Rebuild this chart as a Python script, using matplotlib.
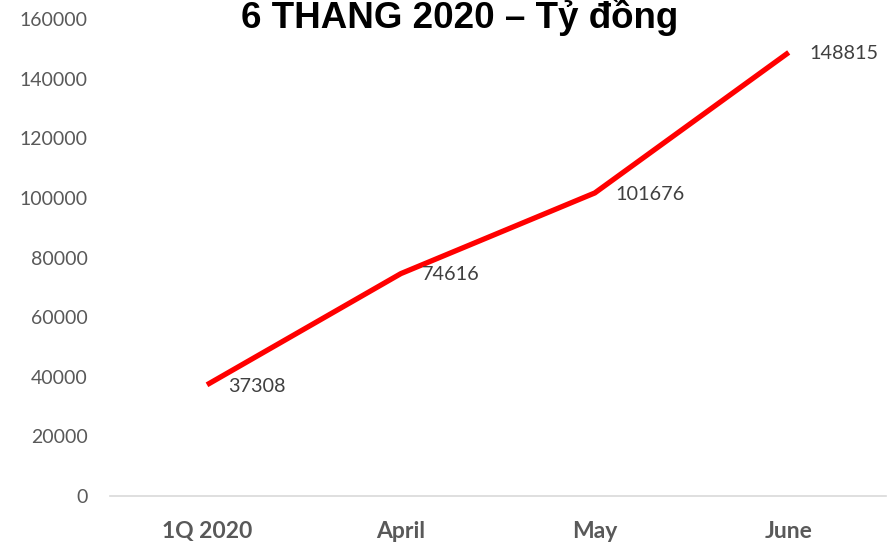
import matplotlib.pyplot as plt

# data
categories = ["1Q 2020", "April", "May", "June"]
values = [37308, 74616, 101676, 148815]
y_ticks = [0, 20000, 40000, 60000, 80000, 100000, 120000, 140000, 160000]

fig = plt.figure(figsize=(8.91, 5.46), dpi=100)
ax = fig.add_axes([0.1235, 0.0916, 0.8705, 0.8734])

x = list(range(len(categories)))
ax.plot(x, values, color="#FF0000", linewidth=3.8, solid_capstyle="butt",
        solid_joinstyle="miter")

# data labels right of each point
for xi, v in zip(x, values):
    ax.annotate(str(v), (xi, v), xytext=(15, -1), textcoords="offset points",
                ha="left", va="center", fontsize=14.3, color="#404040",
                family="Lato")

ax.set_xlim(-0.5, 3.5)
ax.set_ylim(0, 160000)
ax.set_xticks(x)
ax.set_xticklabels(categories, fontsize=16.5, fontweight="bold",
                   color="#595959", family="Lato")
ax.set_yticks(y_ticks)
ax.set_yticklabels([str(t) for t in y_ticks], fontsize=14, color="#595959",
                   family="Lato")
ax.tick_params(axis="both", length=0)
ax.tick_params(axis="x", pad=18)
ax.tick_params(axis="y", pad=16)

for side in ["top", "right", "left"]:
    ax.spines[side].set_visible(False)
ax.spines["bottom"].set_color("#D9D9D9")
ax.spines["bottom"].set_linewidth(1.2)

fig.text(0.5155, 1 - 28 / 546, "6 THÁNG 2020 – Tỷ đồng", ha="center",
         va="baseline", fontsize=26.5, fontweight="bold", color="black",
         family="Liberation Sans")

fig.savefig("out.png", dpi=100)
